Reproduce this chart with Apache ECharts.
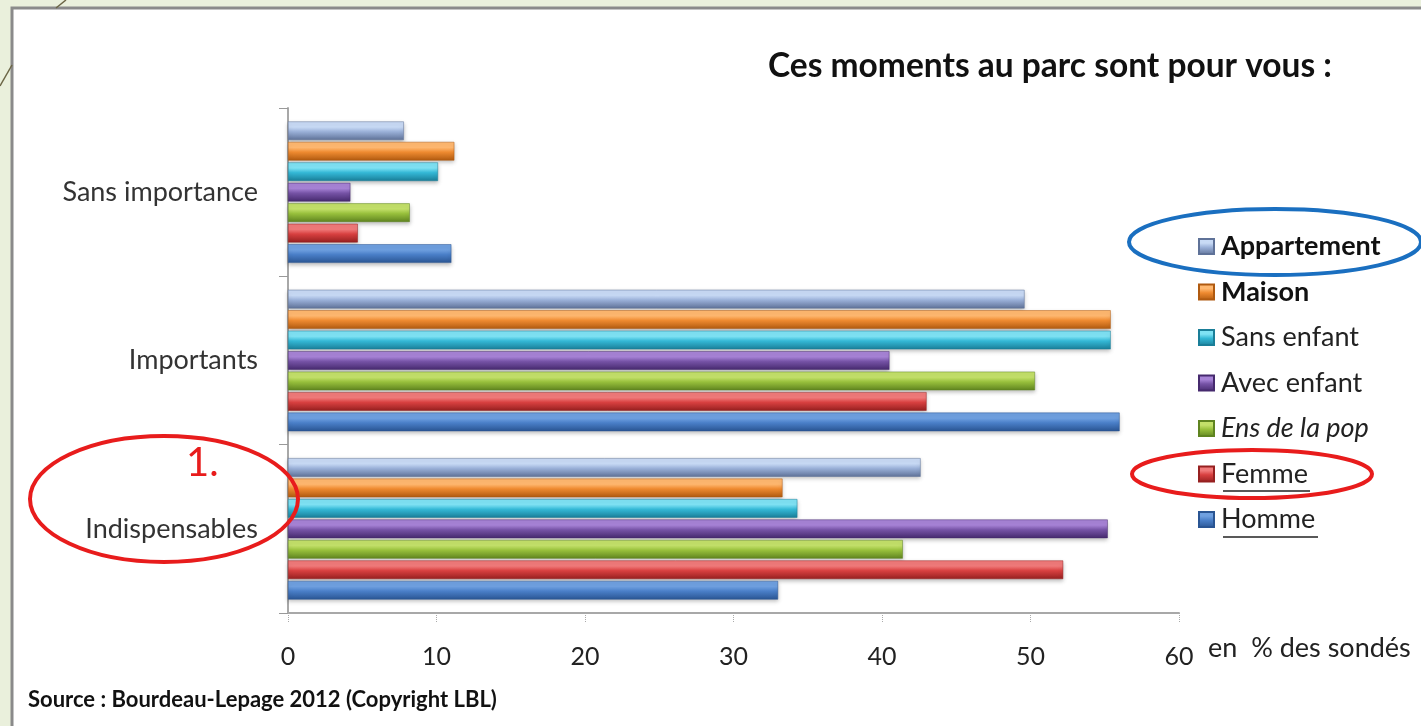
<!DOCTYPE html>
<html><head><meta charset="utf-8">
<script src="https://cdn.jsdelivr.net/npm/echarts@6/dist/echarts.min.js"></script>
<style>html,body{margin:0;padding:0;background:#eaf0dc;}#c{width:1421px;height:726px;}</style>
</head><body><div id="c"></div>
<script>
const categories = ['Indispensables', 'Importants', 'Sans importance'];
const seriesNames = ['Appartement', 'Maison', 'Sans enfant', 'Avec enfant', 'Ens de la pop', 'Femme', 'Homme'];
const appartement = [42.6, 49.6, 7.8];
const maison      = [33.3, 55.4, 11.2];
const sansEnfant  = [34.3, 55.4, 10.1];
const avecEnfant  = [55.2, 40.5, 4.2];
const ensPop      = [41.4, 50.3, 8.2];
const femme       = [52.2, 43.0, 4.7];
const homme       = [33.0, 56.0, 11.0];
const xTicks = [0, 10, 20, 30, 40, 50, 60];
const values = [appartement, maison, sansEnfant, avecEnfant, ensPop, femme, homme];
const palette = [
  ['#c8daf5', '#9ab0d8', '#5f7298'],
  ['#ffb870', '#ee8a30', '#b05a10'],
  ['#7fe2f4', '#34b8d6', '#1a7e98'],
  ['#a783d6', '#7653a6', '#462a6e'],
  ['#c3e06a', '#98c03c', '#5f8420'],
  ['#f07a7a', '#d84040', '#962020'],
  ['#6fa0e0', '#4a7fc8', '#2a5593']
];
const FONT = 'Lato, "Open Sans", sans-serif';

const chart = echarts.init(document.getElementById('c'), null, {renderer: 'canvas'});
const grad = (c) => new echarts.graphic.LinearGradient(0, 0, 0, 1, [
  {offset: 0, color: c[0]}, {offset: 0.3, color: c[0]}, {offset: 0.55, color: c[1]}, {offset: 1, color: c[2]}
]);
const series = seriesNames.map((n, i) => ({
  name: n, type: 'bar', data: values[i],
  barCategoryGap: '16%', barGap: '10%',
  itemStyle: {color: grad(palette[i]), borderColor: palette[i][2], borderWidth: 0.5,
    shadowColor: 'rgba(0,0,0,0.25)', shadowBlur: 4, shadowOffsetY: 2},
  emphasis: {disabled: true}
}));
const legendFmt = {
  'Appartement': '{b|Appartement}', 'Maison': '{b|Maison}', 'Sans enfant': '{n|Sans enfant}',
  'Avec enfant': '{n|Avec enfant}', 'Ens de la pop': '{i|Ens de la pop}', 'Femme': '{n|Femme}', 'Homme': '{n|Homme}'
};
chart.setOption({
  backgroundColor: '#eaf0dc',
  animation: false,
  title: {text: 'Ces moments au parc sont pour vous :', left: 768, top: 49, padding: 0,
    textStyle: {fontFamily: FONT, fontSize: 33.5, fontWeight: 'bold', color: '#111'}},
  legend: {
    orient: 'vertical', left: 1198, top: 233, padding: 0, itemWidth: 15, itemHeight: 15, itemGap: 18.5,
    data: seriesNames, selectedMode: false,
    icon: 'rect',
    formatter: (n) => legendFmt[n],
    textStyle: {fontFamily: FONT, fontSize: 27, color: '#222', padding: [0, 0, 0, 2],
      rich: {
        b: {fontFamily: FONT, fontSize: 27, lineHeight: 28, fontWeight: 'bold', color: '#111'},
        n: {fontFamily: FONT, fontSize: 27, lineHeight: 28, color: '#222'},
        i: {fontFamily: FONT, fontSize: 27, lineHeight: 28, fontStyle: 'italic', color: '#222'}
      }}
  },
  grid: {left: 288, right: 242, top: 108, bottom: 113, containLabel: false},
  xAxis: {
    type: 'value', min: 0, max: 60, interval: 10,
    axisLine: {show: true, lineStyle: {color: '#a8a8a8', width: 2}},
    axisTick: {show: true, length: 10, lineStyle: {color: '#aaa', type: 'dotted'}},
    splitLine: {show: false},
    axisLabel: {fontFamily: FONT, fontSize: 25, color: '#222', margin: 31,
      formatter: (v) => xTicks.includes(v) ? String(v) : ''}
  },
  yAxis: {
    type: 'category', data: categories,
    axisLine: {show: true, lineStyle: {color: '#a8a8a8', width: 2}},
    axisTick: {show: true, length: 9, lineStyle: {color: '#999'}},
    axisLabel: {fontFamily: FONT, fontSize: 27, color: '#333', margin: 30}
  },
  series: series,
  graphic: [
    {type: 'rect', z: -10, shape: {x: 12, y: 8, width: 1420, height: 730},
      style: {fill: '#ffffff', stroke: '#8a8a8a', lineWidth: 3}},
    {type: 'polyline', z: -5, shape: {points: [[0, 86], [12, 65]]}, style: {stroke: '#6b6545', lineWidth: 1.5, fill: null}},
    {type: 'polyline', z: -5, shape: {points: [[56, 8], [66, 0]]}, style: {stroke: '#6b6545', lineWidth: 1.5, fill: null}},
    {type: 'text', left: 1208, top: 635, style: {text: 'en  % des sondés', font: '27px ' + FONT, fill: '#222'}},
    {type: 'text', left: 28, top: 689, style: {text: 'Source : Bourdeau-Lepage 2012 (Copyright LBL)', font: 'bold 22px ' + FONT, fill: '#111'}},
    {type: 'line', shape: {x1: 1223, y1: 491, x2: 1310, y2: 491}, style: {stroke: '#222', lineWidth: 1.5}},
    {type: 'line', shape: {x1: 1223, y1: 537, x2: 1318, y2: 537}, style: {stroke: '#222', lineWidth: 1.5}},
    {type: 'ellipse', shape: {cx: 1275, cy: 242, rx: 146, ry: 33}, style: {fill: null, stroke: '#1a6fc0', lineWidth: 4}, z: 100},
    {type: 'ellipse', shape: {cx: 1252, cy: 474, rx: 120, ry: 24}, style: {fill: null, stroke: '#e81c1c', lineWidth: 4}, z: 100},
    {type: 'ellipse', shape: {cx: 164, cy: 499, rx: 134, ry: 63}, style: {fill: null, stroke: '#e81c1c', lineWidth: 4}, z: 100},
    {type: 'text', left: 186, top: 443, style: {text: '1.', font: '40px ' + FONT, fill: '#e81c1c'}, z: 100}
  ]
});
</script></body></html>
